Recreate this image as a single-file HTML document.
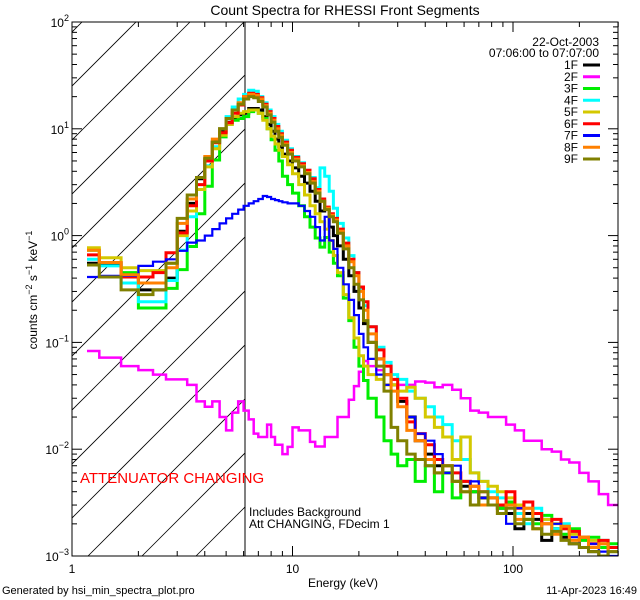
<!DOCTYPE html>
<html><head><meta charset="utf-8"><style>
html,body{margin:0;padding:0;background:#fff;}
svg{display:block;font-family:"Liberation Sans",sans-serif;}
</style></head><body>
<svg id="chart" width="640" height="600" viewBox="0 0 640 600" xmlns="http://www.w3.org/2000/svg">
<defs><clipPath id="plotclip"><rect x="72" y="22" width="546" height="534"/></clipPath>
<clipPath id="hatchclip"><rect x="72" y="22" width="173" height="534"/></clipPath></defs>
<rect width="640" height="600" fill="#fff"/>
<text x="345" y="15" font-size="14" text-anchor="middle">Count Spectra for RHESSI Front Segments</text>
<g id="hatch" clip-path="url(#hatchclip)"></g>
<line x1="245" y1="22" x2="245" y2="556" stroke="#000" stroke-width="1"/>
<g id="series" clip-path="url(#plotclip)"></g>
<rect x="72" y="22" width="546" height="534" fill="none" stroke="#000" stroke-width="1"/>
<g id="ticks"></g>
<g id="labels"></g>
<text transform="translate(37,290) rotate(-90)" font-size="12" text-anchor="middle">counts cm<tspan dy="-5" font-size="9">−2</tspan><tspan dy="5"> s</tspan><tspan dy="-5" font-size="9">−1</tspan><tspan dy="5"> keV</tspan><tspan dy="-5" font-size="9">−1</tspan></text>
<text x="343" y="587" font-size="12" text-anchor="middle">Energy (keV)</text>
<text x="2" y="594" font-size="11">Generated by hsi_min_spectra_plot.pro</text>
<text x="637" y="594" font-size="11" text-anchor="end">11-Apr-2023 16:49</text>
<text x="80" y="483" font-size="15" fill="#ff0000">ATTENUATOR CHANGING</text>
<text x="249" y="516" font-size="12">Includes Background</text>
<text x="249" y="528" font-size="12">Att CHANGING, FDecim 1</text>
<text x="599" y="46" font-size="12" text-anchor="end">22-Oct-2003</text>
<text x="599" y="57" font-size="12" text-anchor="end">07:06:00 to 07:07:00</text>
<g id="legend"></g>
</svg>
<script>
const edges=[1.17,1.33,1.67,2,2.33,2.67,3,3.33,3.67,4,4.33,4.67,5,5.33,5.67,6,6.33,6.67,7,7.33,7.67,8,8.33,8.67,9,9.5,10,10.67,11.33,12,12.67,13.33,14,14.67,15.33,16,17,18,19,20,21,22,24,26,28,30,33,36,40,44,48,53,58,64,70,77,85,93,102,112,123,135,150,165,180,200,220,245,270,300];
const seriesNames=["1F","2F","3F","4F","5F","6F","7F","8F","9F"];
const s1F=[.55,.55,.41,.31,.31,.40,1.1,2.0,3.4,5.2,7.5,9.5,11.5,12.5,13.5,
14,15.5,15.5,15,13,11,9.5,8,6.8,5.8,5,4.3,3.6,3.1,2.6,2.1,1.7,1.8,1.2,1.0,
.8,.6,.42,.3,.21,.15,.1,.07,.05,.04,.028,.02,.012,.009,.007,.006,.005,.0045,.004,.0035,
.003,.0028,.0025,.0018,.0025,.0022,.0014,.0018,.0015,.0013,.0012,.0011,.0009,.0012];
const s2F=[.083,.072,.06,.055,.05,.045,.045,.04,.028,.025,.028,.02,.015,.022,.028,
.023,.019,.014,.013,.013,.017,.013,.011,.011,.009,.0105,.016,.015,.015,.0117,.0106,.0106,.013,.013,.013,
.02,.02,.029,.039,.053,.067,.06,.055,.05,.045,.04,.04,.043,.042,.038,.04,.036,.03,.023,.022,
.02,.02,.017,.015,.012,.012,.01,.0095,.008,.0075,.006,.005,.0038,.003];
const s3F=[.73,.56,.45,.21,.21,.32,.48,.79,1.6,2.9,5.1,8.4,11,12,12.5,
13,14.5,15,14,12.5,10,7.9,6.3,5.0,3.6,3.0,2.5,1.9,1.5,1.2,.95,.78,.96,.7,.55,
.42,.26,.16,.09,.06,.044,.03,.02,.012,.009,.007,.008,.005,.007,.004,.006,.0035,.005,.004,.003,
.0035,.0028,.0032,.0025,.0022,.002,.0024,.0018,.0016,.0018,.0014,.0015,.0012,.0013];
const s4F=[.6,.52,.36,.24,.24,.38,.73,1.5,2.7,4.5,6.8,10,13,16,19,
21,23,22.5,20,17.5,15,13,11,9.5,7.8,6.5,5.5,4.8,4.1,3.5,2.8,4.3,3.6,2.6,1.8,
1.3,.95,.65,.45,.32,.22,.14,.09,.065,.05,.045,.035,.03,.025,.02,.017,.012,.008,.006,.005,
.004,.0035,.003,.0025,.002,.0028,.0022,.0018,.002,.0016,.0015,.0012,.0014,.0011];
const s5F=[.77,.62,.5,.47,.47,.55,1.0,1.7,2.7,4.4,6.5,8.7,11,13,14,
14.5,15,15,14,12,10,8.5,7.2,6.3,5.5,4.6,3.8,3.0,2.4,1.9,1.6,1.35,1.15,.9,.65,
.45,.28,.17,.11,.075,.06,.05,.045,.04,.04,.035,.038,.03,.02,.016,.013,.008,.013,.006,.005,
.0045,.004,.0035,.003,.0028,.0025,.0022,.002,.0018,.0016,.0015,.0014,.0013,.0012];
const s6F=[.66,.56,.41,.41,.45,.69,1.06,1.9,3.0,5.0,7.4,9.2,11.4,14,16.7,
20,21.5,21,19.5,17,14.5,12.5,10.5,9,7.5,6.3,5.4,4.7,4.1,3.4,2.7,2.2,1.85,1.6,1.45,
1.15,.85,.6,.45,.33,.24,.14,.085,.06,.045,.03,.018,.014,.011,.008,.007,.006,.005,.0045,.004,
.0035,.003,.004,.0028,.0032,.0025,.002,.0022,.0018,.0017,.0015,.0013,.0014,.0012];
const s7F=[.41,.42,.42,.52,.57,.6,.72,.86,.9,1.0,1.15,1.3,1.45,1.6,1.75,
1.9,2.0,2.1,2.2,2.35,2.3,2.2,2.15,2.1,2.05,2.0,2.0,1.9,1.7,1.5,1.2,.9,1.5,.9,.75,
.5,.35,.25,.18,.12,.09,.07,.05,.04,.035,.025,.02,.014,.012,.009,.006,.007,.004,.005,.0035,
.003,.0025,.002,.0028,.0022,.0018,.0016,.002,.0014,.0015,.0012,.0013,.0011,.001];
const s8F=[.73,.56,.43,.36,.36,.5,1.3,2.2,3.5,5.5,8,10,12.5,15,17.5,
20,21,20.5,19,16.5,14,12,10,8.7,7.2,6,5.2,4.5,3.9,3.2,2.6,2.1,1.8,1.55,1.4,
1.1,.8,.57,.42,.3,.2,.12,.07,.05,.035,.025,.015,.012,.008,.006,.007,.005,.004,.0045,.003,
.0035,.0025,.003,.0022,.0028,.0018,.002,.0016,.0019,.0014,.0015,.0012,.0013,.0011];
const s9F=[.53,.41,.31,.28,.31,.55,1.45,2.4,3.5,5.3,7.5,10,12.5,15,17,
19,20,19.5,18,16,13.5,11.5,9.5,8.3,7,5.8,5,4.4,3.8,3.1,2.5,2.1,1.75,1.5,1.35,
1.05,.75,.5,.35,.25,.16,.1,.06,.035,.016,.012,.009,.008,.007,.006,.007,.005,.004,.003,.004,
.003,.0025,.0028,.002,.0022,.0018,.0016,.0017,.0014,.0013,.0012,.0011,.001,.0011];
const seriesValues=[s1F,s2F,s3F,s4F,s5F,s6F,s7F,s8F,s9F];
const seriesColors=["#000000","#ff00ff","#00ee00","#00ffff","#d4c800","#ff0000","#0000ff","#ff8000","#808000"];
const seriesWidths=[3,2.5,3,3,3,3,2.2,3,3];
const xMajorTicks=[1,10,100];
const xTickLabels=["1","10","100"];
const yMajorExps=[-3,-2,-1,0,1,2];

const X0=72,X1=618,Y0=22,Y1=556;
const DEC_X=220.5, DEC_Y=(Y1-Y0)/5;
function xs(e){return X0+Math.log10(e)*DEC_X;}
function ys(v){return Y0+(2-Math.log10(v))*DEC_Y;}
const NS="http://www.w3.org/2000/svg";
function mk(tag,attrs,parent){const el=document.createElementNS(NS,tag);for(const k in attrs)el.setAttribute(k,attrs[k]);parent.appendChild(el);return el;}

// hatching
const hatch=document.getElementById('hatch');
for(let c=104;c<=820;c+=54){
  const ln=mk('line',{x1:c-Y1,y1:Y1,x2:c-Y0,y2:Y0,stroke:'#000','stroke-width':0.8},hatch);
  
  
}

// series
const sg=document.getElementById('series');
seriesValues.forEach((vals,i)=>{
  let d="M"+xs(edges[0]).toFixed(1)+" "+ys(vals[0]).toFixed(1);
  for(let j=0;j<vals.length;j++){
    if(j>0)d+=" V"+ys(vals[j]).toFixed(1);
    d+=" H"+xs(edges[j+1]).toFixed(1);
  }
  const p=mk('path',{d:d,fill:'none',stroke:seriesColors[i],'stroke-width':seriesWidths[i],'stroke-linejoin':'miter'},sg);
  
  
});

// ticks
const tg=document.getElementById('ticks');
function tick(x1,y1,x2,y2){const t=mk('line',{x1:x1,y1:y1,x2:x2,y2:y2,stroke:'#000','stroke-width':1},tg);
  
  }
for(let d=0;d<3;d++){for(let m=1;m<10;m++){const e=Math.pow(10,d)*m;if(e>300)break;const x=xs(e);const L=(m===1)?10:5;
  tick(x,Y1,x,Y1-L);tick(x,Y0,x,Y0+L);}}
for(let d=-3;d<2;d++){for(let m=1;m<10;m++){const v=Math.pow(10,d)*m;const y=ys(v);const L=(m===1)?10:5;
  tick(X0,y,X0+L,y);tick(X1,y,X1-L,y);}}
tick(X0,Y0,X0+10,Y0);tick(X1,Y0,X1-10,Y0);

const lg=document.getElementById('labels');
xMajorTicks.forEach((e,i)=>{const t=mk('text',{x:xs(e),y:Y1+17,'font-size':12,'text-anchor':'middle'},lg);t.textContent=xTickLabels[i];
  
  });
yMajorExps.forEach(p=>{const y=ys(Math.pow(10,p));const t=mk('text',{x:X0-3,y:y+5,'font-size':12,'text-anchor':'end'},lg);
  t.innerHTML='10<tspan dy="-6" font-size="9">'+(p<0?'−'+(-p):p)+'</tspan>';
  
  });

// legend
const leg=document.getElementById('legend');
seriesNames.forEach((n,i)=>{const y=65+i*11.75;
  const t=mk('text',{x:578,y:y+4,'font-size':12,'text-anchor':'end'},leg);t.textContent=n;
  
  
  const l=mk('line',{x1:583,y1:y,x2:600,y2:y,stroke:seriesColors[i],'stroke-width':3},leg);
  
  });
</script>
</body></html>
